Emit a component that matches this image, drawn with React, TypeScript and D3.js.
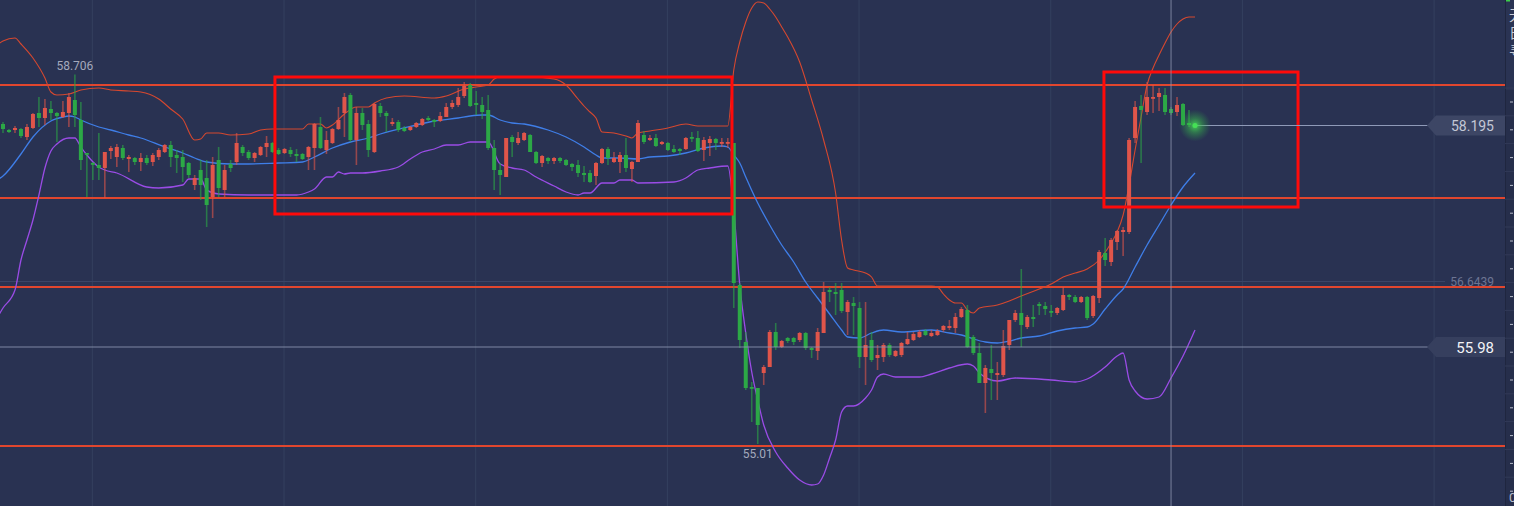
import React from "react";
import * as d3 from "d3";

// ---------- DATA ----------
// candle OHLC (index 0..199)
const opens = [58.21,58.15,58.15,58.16,58.08,58.17,58.32,58.27,58.36,58.32,58.28,58.32,58.45,58.25,57.92,57.82,57.80,57.77,57.94,57.88,57.97,57.86,57.87,57.83,57.87,57.83,57.88,57.93,58.00,57.90,57.88,57.82,57.60,57.75,57.67,57.48,57.85,57.55,57.81,57.83,57.98,57.93,57.87,57.90,57.98,58.02,57.95,57.92,57.95,57.91,57.91,57.88,57.97,58.18,57.95,58.02,58.16,58.32,58.50,58.05,58.32,58.21,57.93,58.39,58.32,58.21,58.23,58.17,58.15,58.18,58.20,58.27,58.25,58.24,58.28,58.38,58.40,58.49,58.60,58.42,58.40,58.35,57.97,57.75,57.68,58.08,58.02,58.05,58.10,57.93,57.82,57.87,57.84,57.87,57.85,57.81,57.80,57.72,57.72,57.69,57.82,57.96,57.83,57.83,57.90,57.76,57.83,58.10,58.05,58.07,58.01,58.02,57.96,57.96,57.96,58.08,58.07,57.95,58.02,58.06,58.02,58.02,58.02,56.60,56.03,55.58,55.57,55.72,55.78,56.13,55.98,56.07,56.07,56.05,56.12,55.97,55.94,56.12,56.55,56.53,56.55,56.33,56.42,56.37,55.88,56.05,55.87,55.88,56.00,55.89,55.90,56.01,56.05,56.08,56.14,56.09,56.10,56.15,56.17,56.17,56.28,56.35,56.08,55.92,55.62,55.76,55.70,55.70,56.00,56.25,56.32,56.18,56.28,56.41,56.39,56.34,56.32,56.35,56.50,56.48,56.43,56.48,56.29,56.47,56.92,56.83,57.03,57.13,57.13,58.07,58.39,58.33,58.47,58.48,58.50,58.36,58.33,58.41,58.22,58.20];
const highs = [58.23,58.16,58.19,58.17,58.21,58.32,58.48,58.46,58.44,58.33,58.44,58.52,58.706,58.43,57.92,57.83,58.12,57.93,57.99,58.01,58.00,57.90,57.88,57.92,57.90,57.92,57.97,58.01,58.04,57.95,57.95,57.83,57.70,57.85,57.85,57.88,57.98,57.80,57.85,58.12,58.00,57.95,57.93,57.99,58.09,58.03,57.97,57.97,57.98,57.96,57.92,57.99,58.22,58.28,58.14,58.17,58.38,58.52,58.52,58.38,58.37,58.25,58.42,58.42,58.34,58.27,58.25,58.19,58.19,58.23,58.27,58.29,58.26,58.33,58.42,58.45,58.57,58.63,58.62,58.54,58.48,58.50,58.05,57.82,58.07,58.10,58.13,58.13,58.11,57.94,57.90,57.88,57.88,57.88,57.86,57.82,57.85,57.79,57.75,57.83,57.97,57.98,57.93,57.93,58.07,57.84,58.25,58.14,58.10,58.11,58.04,58.03,58.00,57.97,58.08,58.13,58.14,58.08,58.09,58.07,58.07,58.07,58.02,56.62,56.13,55.63,55.57,55.80,56.15,56.22,56.05,56.08,56.08,56.13,56.13,55.98,56.17,56.63,56.58,56.62,56.62,56.45,56.48,56.43,56.43,56.13,56.00,56.02,56.02,55.95,56.03,56.13,56.13,56.15,56.16,56.15,56.16,56.20,56.25,56.32,56.38,56.40,56.10,56.02,55.80,56.00,55.83,56.15,56.25,56.35,56.76,56.30,56.40,56.43,56.43,56.40,56.38,56.58,56.51,56.50,56.49,56.49,56.50,56.95,57.07,57.07,57.15,57.18,58.07,58.44,58.50,58.63,58.60,58.57,58.57,58.38,58.48,58.42,58.35,58.21];
const lows = [58.12,58.12,58.12,58.07,58.05,58.16,58.18,58.20,58.25,58.03,58.27,58.18,58.18,57.75,57.48,57.65,57.65,57.47,57.86,57.78,57.85,57.73,57.80,57.74,57.80,57.79,57.85,57.92,57.78,57.72,57.63,57.67,57.55,57.45,57.18,57.27,57.48,57.48,57.73,57.80,57.89,57.85,57.83,57.89,57.88,57.92,57.90,57.91,57.88,57.83,57.85,57.75,57.75,57.96,57.91,58.01,58.15,58.08,58.03,57.80,58.15,57.88,57.92,58.28,58.13,58.19,58.13,58.13,58.14,58.17,58.19,58.24,58.18,58.23,58.28,58.36,58.38,58.47,58.38,58.30,58.26,57.95,57.55,57.50,57.68,57.88,58.00,58.04,57.93,57.81,57.78,57.81,57.81,57.82,57.79,57.74,57.68,57.63,57.62,57.60,57.81,57.80,57.82,57.72,57.73,57.63,57.83,58.01,58.04,57.98,58.00,57.94,57.92,57.90,57.95,58.03,57.93,57.84,57.89,57.95,57.98,57.97,56.37,55.97,55.55,55.23,55.01,55.60,55.78,55.95,55.97,56.02,56.00,56.03,55.95,55.87,55.85,56.12,56.43,56.30,56.32,56.10,56.10,55.77,55.60,55.83,55.75,55.83,55.88,55.88,55.88,56.00,56.04,56.07,56.09,56.08,56.09,56.13,56.15,56.12,56.27,55.97,55.90,55.62,55.32,55.45,55.45,55.68,55.95,56.23,55.98,56.16,56.18,56.30,56.30,56.28,56.30,56.34,56.45,56.42,56.42,56.25,56.27,56.42,56.79,56.79,56.95,56.89,57.11,58.02,57.82,58.30,58.32,58.34,58.30,58.30,58.29,58.19,58.18,58.195];
const closes = [58.16,58.13,58.17,58.09,58.18,58.31,58.27,58.37,58.32,58.29,58.33,58.48,58.30,57.85,57.91,57.81,57.77,57.93,57.97,57.98,57.87,57.88,57.83,57.87,57.82,57.90,57.95,58.00,57.88,57.87,57.78,57.70,57.67,57.60,57.40,57.80,57.57,57.75,57.77,58.02,57.92,57.87,57.92,57.98,58.02,57.93,57.91,57.96,57.91,57.89,57.86,57.98,58.21,57.97,58.05,58.16,58.25,58.48,58.05,58.32,58.20,57.95,58.41,58.32,58.29,58.23,58.15,58.14,58.18,58.22,58.26,58.25,58.23,58.29,58.38,58.42,58.48,58.59,58.39,58.40,58.33,57.97,57.75,57.70,58.07,58.03,58.07,58.12,57.93,57.82,57.89,57.84,57.87,57.84,57.80,57.78,57.72,57.70,57.63,57.82,57.96,57.87,57.87,57.90,57.77,57.83,58.22,58.03,58.07,57.99,58.03,57.95,57.93,57.94,58.07,58.07,57.94,58.05,58.06,58.02,58.03,58.03,56.62,56.05,55.57,55.57,55.20,55.78,56.13,55.98,56.04,56.04,56.03,56.12,55.97,55.95,56.13,56.53,56.53,56.51,56.34,56.43,56.39,55.88,56.00,55.85,55.90,56.00,55.90,55.94,56.02,56.06,56.11,56.13,56.10,56.12,56.14,56.19,56.19,56.28,56.36,55.98,55.92,55.62,55.77,55.72,55.72,55.99,56.25,56.32,56.20,56.28,56.26,56.39,56.36,56.33,56.37,56.50,56.48,56.43,56.48,56.27,56.49,56.93,56.85,57.05,57.14,57.15,58.05,58.38,58.35,58.48,58.48,58.52,58.33,58.32,58.40,58.20,58.20,58.195];

// Bollinger bands: [candle index, price]
const bandUpper: [number, number][] = [[-1,59.00],[0,59.04],[2,59.07],[3,59.01],[5,58.87],[7,58.67],[8,58.53],[9,58.50],[11,58.51],[13,58.55],[16,58.57],[18,58.55],[21,58.54],[23,58.53],[26,58.46],[28,58.36],[30,58.26],[32,58.05],[33,58.06],[34,58.12],[36,58.12],[38,58.10],[41,58.11],[43,58.15],[45,58.16],[50,58.16],[51,58.21],[53,58.21],[54,58.17],[55,58.20],[57,58.31],[59,58.38],[61,58.38],[62,58.42],[64,58.47],[67,58.49],[72,58.47],[74,58.49],[77,58.56],[79,58.58],[81,58.60],[82,58.66],[83,58.68],[88,58.68],[92,58.66],[94,58.60],[96,58.46],[97,58.39],[98,58.33],[99,58.27],[100,58.13],[102,58.12],[104,58.09],[105,58.07],[106,58.12],[108,58.14],[111,58.17],[114,58.21],[116,58.19],[121,58.19],[122,58.75],[123,59.03],[124,59.23],[125,59.37],[126,59.43],[127,59.42],[128,59.36],[129,59.28],[130,59.18],[131,59.08],[133,58.83],[135,58.45],[137,58.05],[139,57.52],[140,57.05],[141,56.77],[142,56.75],[144,56.72],[145,56.68],[146,56.59],[155,56.59],[156,56.58],[157,56.51],[158,56.45],[159,56.42],[160,56.42],[161,56.35],[162,56.32],[163,56.37],[166,56.40],[168,56.44],[170,56.49],[173,56.56],[175,56.61],[177,56.68],[179,56.72],[181,56.76],[183,56.85],[185,57.02],[186,57.13],[187,57.30],[188,57.60],[189,57.95],[190,58.28],[191,58.60],[192,58.77],[193,58.90],[194,59.02],[195,59.13],[196,59.21],[197,59.26],[198,59.28],[199,59.28]];
const bandMiddle: [number, number][] = [[-1,57.65],[0,57.69],[3,57.91],[5,58.08],[8,58.24],[10,58.28],[11,58.29],[12,58.28],[13,58.25],[16,58.18],[18,58.15],[21,58.10],[23,58.07],[27,57.98],[30,57.92],[32,57.87],[34,57.83],[38,57.81],[41,57.81],[46,57.82],[50,57.83],[52,57.88],[55,57.97],[58,58.03],[61,58.07],[63,58.11],[69,58.20],[72,58.24],[76,58.27],[78,58.29],[80,58.30],[81,58.30],[83,58.25],[85,58.22],[87,58.21],[91,58.15],[94,58.08],[97,57.98],[99,57.90],[100,57.87],[103,57.87],[106,57.86],[108,57.88],[111,57.89],[114,57.92],[117,57.97],[120,57.99],[121,57.98],[122,57.90],[123,57.82],[124,57.68],[126,57.42],[128,57.20],[130,57.00],[132,56.83],[134,56.63],[136,56.47],[138,56.31],[140,56.15],[141,56.08],[143,56.07],[145,56.12],[147,56.15],[150,56.13],[155,56.15],[158,56.12],[160,56.10],[162,56.06],[164,56.03],[166,56.02],[168,56.04],[170,56.07],[173,56.09],[176,56.14],[179,56.17],[181,56.18],[182,56.21],[184,56.36],[186,56.50],[187,56.56],[189,56.78],[191,57.00],[193,57.20],[195,57.40],[197,57.58],[199,57.72]];
const bandLower: [number, number][] = [[-1,56.27],[0,56.37],[2,56.55],[3,56.85],[4,57.05],[5,57.25],[6,57.50],[7,57.77],[8,57.94],[9,58.01],[11,58.07],[12,58.07],[13,57.98],[14,57.90],[16,57.78],[17,57.75],[19,57.72],[24,57.58],[26,57.57],[30,57.60],[31,57.66],[33,57.66],[34,57.55],[36,57.51],[41,57.50],[49,57.50],[51,57.53],[52,57.56],[54,57.68],[55,57.68],[56,57.73],[57,57.71],[58,57.72],[60,57.72],[63,57.74],[66,57.78],[68,57.86],[70,57.93],[72,57.96],[74,58.00],[76,58.00],[78,58.03],[81,58.03],[83,57.81],[85,57.77],[87,57.75],[89,57.68],[92,57.59],[94,57.53],[96,57.50],[97,57.52],[98,57.52],[100,57.62],[102,57.62],[103,57.65],[105,57.65],[106,57.62],[112,57.63],[114,57.67],[116,57.75],[118,57.77],[121,57.79],[122,57.35],[123,56.60],[124,56.12],[125,55.73],[126,55.45],[127,55.20],[129,54.93],[131,54.77],[133,54.65],[135,54.60],[136,54.61],[137,54.70],[138,54.87],[139,55.05],[140,55.33],[141,55.39],[142,55.39],[144,55.47],[145,55.55],[146,55.68],[147,55.71],[149,55.68],[153,55.68],[155,55.71],[158,55.77],[161,55.81],[162,55.79],[163,55.72],[166,55.64],[169,55.67],[175,55.65],[179,55.63],[181,55.66],[184,55.78],[186,55.89],[187,55.92],[188,55.65],[189,55.54],[191,55.46],[193,55.48],[195,55.67],[197,55.89],[199,56.15]];

// drawn horizontal levels
const levelPrices = [58.60, 57.47, 56.58, 54.99];
// highlight boxes: [startIndex, endIndex, topPrice, bottomPrice]
const boxes: [number, number, number, number][] = [[45.4, 121.7, 58.68, 57.31], [183.8, 216.2, 58.73, 57.38]];
// time grid at candle indices
const gridIndex = [15, 47, 79, 111, 143, 175, 207, 239];
const markHigh = { index: 12, price: 58.706, label: "58.706" };
const markLow = { index: 126, price: 55.01, label: "55.01" };
const refLine = { price: 56.6439, label: "56.6439" };
const crosshair = { index: 195, price: 55.98, label: "55.98" };
const lastPrice = { price: 58.195, label: "58.195" };
const panelChars = ["无", "日", "寻"];

// ---------- CHART ----------
const W = 1514, H = 506, PLOT_R = 1505;
const BG = "#293252";
const UP = "#e0554a", DOWN = "#2ca846";

export default function App() {
  const x = d3.scaleLinear().domain([0, 199]).range([3, 1195]);
  const y = d3.scaleLinear().domain([59.45, 54.39]).range([0, 506]);
  const line = d3.line<[number, number]>().x(d => x(d[0])).y(d => y(d[1])).curve(d3.curveMonotoneX);
  const bw = 4;
  const tickYs = d3.range(15).map(k => 102 + k * 27.8);

  const labelBox = (py: number, fill: string) => {
    const cy = y(py);
    return `M1427,${cy} L1436,${cy - 10} L${PLOT_R},${cy - 10} L${PLOT_R},${cy + 10} L1436,${cy + 10} Z`;
  };

  return (
    <div style={{ position: "fixed", left: 0, top: 0 }}>
      <svg width={W} height={H} style={{ display: "block", fontFamily: "Roboto, 'Open Sans', sans-serif" }}>
        <defs>
          <clipPath id="plot"><rect x={0} y={0} width={PLOT_R} height={H} /></clipPath>
          <radialGradient id="glow">
            <stop offset="0%" stopColor="#4be05a" stopOpacity={0.9} />
            <stop offset="45%" stopColor="#39c24a" stopOpacity={0.45} />
            <stop offset="100%" stopColor="#2ca846" stopOpacity={0} />
          </radialGradient>
        </defs>
        <rect x={0} y={0} width={W} height={H} fill={BG} />
        <g clipPath="url(#plot)">
          {gridIndex.map(g => (
            <line key={g} x1={x(g) - 0.5} x2={x(g) - 0.5} y1={0} y2={H} stroke="#34405f" strokeWidth={1} />
          ))}
          <line x1={0} x2={1445} y1={Math.round(y(refLine.price)) + 0.5} y2={Math.round(y(refLine.price)) + 0.5} stroke="#3a4566" strokeWidth={1} />
          {levelPrices.map(p => (
            <line key={p} x1={0} x2={PLOT_R} y1={y(p)} y2={y(p)} stroke="#e1462e" strokeWidth={2.2} />
          ))}
          <path d={line(bandUpper) || ""} fill="none" stroke="#d6482f" strokeWidth={1.1} />
          <path d={line(bandMiddle) || ""} fill="none" stroke="#3f7ee8" strokeWidth={1.3} />
          <path d={line(bandLower) || ""} fill="none" stroke="#9a4ce6" strokeWidth={1.3} />
          {closes.map((c, i) => {
            const o = opens[i], up = c >= o;
            const col = up ? UP : DOWN;
            const top = y(Math.max(o, c)), bot = y(Math.min(o, c));
            const cx = x(i);
            return (
              <g key={i}>
                <line x1={cx} x2={cx} y1={y(highs[i])} y2={y(lows[i])} stroke={col} strokeOpacity={0.6} strokeWidth={1.6} />
                <rect x={cx - bw / 2} y={top} width={bw} height={Math.max(1.8, bot - top)} fill={col} />
              </g>
            );
          })}
          {boxes.map((b, k) => (
            <rect key={k} x={x(b[0])} y={y(b[2])} width={x(b[1]) - x(b[0])} height={y(b[3]) - y(b[2])} fill="none" stroke="#ff0a0a" strokeWidth={3} />
          ))}
          <line x1={x(crosshair.index)} x2={x(crosshair.index)} y1={0} y2={H} stroke="#8e96b2" strokeWidth={1} strokeOpacity={0.8} />
          <line x1={0} x2={1428} y1={y(crosshair.price)} y2={y(crosshair.price)} stroke="#8e96b2" strokeWidth={1} strokeOpacity={0.85} />
          <line x1={x(199)} x2={1428} y1={y(lastPrice.price)} y2={y(lastPrice.price)} stroke="#8f9ab8" strokeWidth={1} />
          <circle cx={x(199)} cy={y(lastPrice.price)} r={16} fill="url(#glow)" />
          <circle cx={x(199)} cy={y(lastPrice.price)} r={2.5} fill="#45e055" />
          <text x={x(markHigh.index)} y={y(markHigh.price) - 4} textAnchor="middle" fontSize={12} fill="#a4a9bc">{markHigh.label}</text>
          <text x={x(markLow.index)} y={y(markLow.price) + 14} textAnchor="middle" fontSize={12} fill="#a4a9bc">{markLow.label}</text>
          <text x={1494} y={y(refLine.price) + 5} textAnchor="end" fontSize={12} fill="#6d7593">{refLine.label}</text>
          <path d={labelBox(lastPrice.price, "")} fill="#3d4665" />
          <text x={1494} y={y(lastPrice.price) + 5} textAnchor="end" fontSize={14} fill="#c4c8d6">{lastPrice.label}</text>
          <path d={labelBox(crosshair.price, "")} fill="#363f5e" />
          <text x={1494} y={y(crosshair.price) + 5.5} textAnchor="end" fontSize={15} fill="#f2f3f7">{crosshair.label}</text>
        </g>
        {/* right side panel */}
        <rect x={PLOT_R} y={0} width={W - PLOT_R} height={H} fill="#262e4b" />
        <rect x={PLOT_R} y={0} width={W - PLOT_R} height={90} fill="#2a3353" />
        <line x1={PLOT_R + 0.5} x2={PLOT_R + 0.5} y1={0} y2={H} stroke="#1f263f" strokeWidth={1} />
        <rect x={PLOT_R + 1} y={0} width={4} height={1.5} fill="#3ccf4a" />
        {panelChars.map((ch, k) => (
          <text key={ch} x={1509} y={20 + k * 18} fontSize={14} fill="#c9ccd8" fontFamily="'Noto Sans CJK SC', sans-serif">{ch}</text>
        ))}
        {tickYs.map((ty, k) => (
          <g key={k}>
            <line x1={PLOT_R} x2={W} y1={ty - 14} y2={ty - 14} stroke="#323a58" strokeWidth={1} />
            <line x1={1510} x2={1513} y1={ty} y2={ty} stroke="#b8bccb" strokeWidth={1} />
          </g>
        ))}
        <text x={1509} y={502} fontSize={13} fill="#b8bccb">0</text>
      </svg>
    </div>
  );
}
